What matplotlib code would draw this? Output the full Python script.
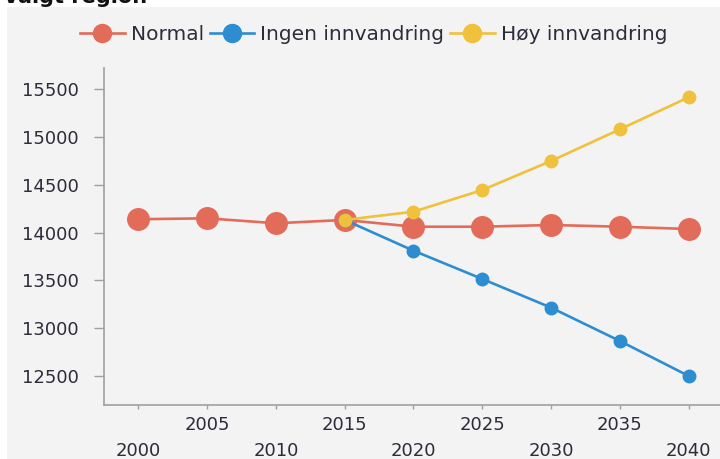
"""Befolkningsframskriving - valgt region"""

import matplotlib.pyplot as plt
from matplotlib.patches import Rectangle

years = ['2000', '2005', '2010', '2015', '2020', '2025', '2030', '2035', '2040']
normal = [14140, 14150, 14098, 14133, 14062, 14062, 14080, 14062, 14038]
ingen_years = years[3:]
ingen = [14133, 13811, 13515, 13215, 12866, 12500]
hoy_years = years[3:]
hoy = [14133, 14219, 14446, 14750, 15081, 15416]
y_ticks = [12500, 13000, 13500, 14000, 14500, 15000, 15500]

RED = '#e36b59'
BLUE = '#2e8dd0'
YELLOW = '#f0c13c'
TXT = '#2c2c3a'
AXC = '#a0a0a0'

plt.rc('font', family='DejaVu Sans', size=13)

fig = plt.figure(figsize=(7.2, 4.59), dpi=100)
fig.patch.set_facecolor('white')
# grey panel behind the chart
fig.patches.append(Rectangle((7 / 720, 0), 1, (459 - 7) / 459, transform=fig.transFigure,
                             facecolor='#f3f3f3', edgecolor='none', zorder=-5))
# heading, cut off at the top like in the original
fig.text(0.004, 1 - 3 / 459, 'Valgt region', fontsize=15, fontweight='bold',
         color='#111111', va='baseline', ha='left')

ax = fig.add_axes([104 / 720, 54 / 459, 619 / 720, 337 / 459])
ax.set_facecolor('none')
ax.set_zorder(2)

idx = {y: i for i, y in enumerate(years)}
ax.plot([idx[y] for y in years], normal, color=RED, lw=1.9, marker='o', ms=15.5,
        mec=RED, label='Normal', zorder=3)
ax.plot([idx[y] for y in ingen_years], ingen, color=BLUE, lw=1.9, marker='o', ms=9,
        mec=BLUE, label='Ingen innvandring', zorder=4)
ax.plot([idx[y] for y in hoy_years], hoy, color=YELLOW, lw=1.9, marker='o', ms=9,
        mec=YELLOW, label='Høy innvandring', zorder=5)

ax.set_xlim(-0.5, 8.5)
ax.set_ylim(12196, 15723)

# staggered x labels: even years on the lower row, odd on the upper row
ax.set_xticks(range(0, 9, 2), [years[i] for i in range(0, 9, 2)])
ax.set_xticks(range(1, 9, 2), [years[i] for i in range(1, 9, 2)], minor=True)
ax.tick_params(axis='x', which='major', length=3, width=1, color=AXC, pad=24, labelcolor=TXT)
ax.tick_params(axis='x', which='minor', length=3, width=1, color=AXC, pad=5, labelcolor=TXT)
ax.set_yticks(y_ticks)
ax.tick_params(axis='y', length=7, width=1, color=AXC, pad=11, labelcolor=TXT)

for s in ['top', 'right']:
    ax.spines[s].set_visible(False)
for s in ['left', 'bottom']:
    ax.spines[s].set_color(AXC)
    ax.spines[s].set_linewidth(1.2)

leg = fig.legend(loc='center', bbox_to_anchor=(0.519, 0.924), ncol=3, frameon=False,
                 fontsize=14.5, handlelength=2.2, handletextpad=0.3, columnspacing=0.3)
for h in leg.legend_handles:
    h.set_markersize(13)
for t in leg.get_texts():
    t.set_color(TXT)

plt.savefig('out.png', dpi=100)
